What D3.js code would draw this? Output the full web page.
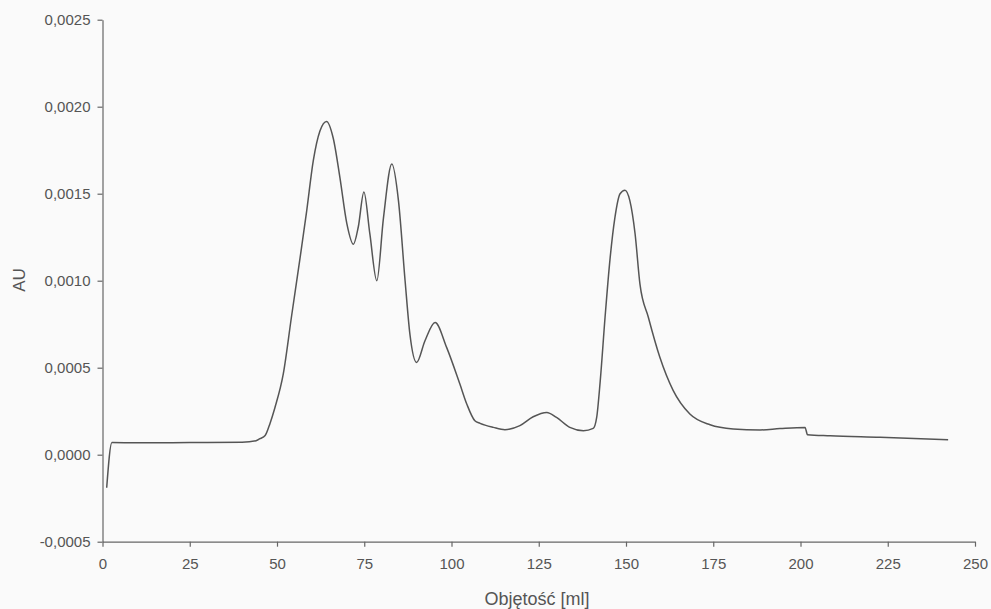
<!DOCTYPE html>
<html>
<head>
<meta charset="utf-8">
<script src="https://cdn.jsdelivr.net/npm/d3@7"></script>
<style>
  html, body { margin: 0; padding: 0; background: #fafafa; }
  svg { display: block; }
  text { font-family: Arial, "Liberation Sans", sans-serif; fill: #555; }
</style>
</head>
<body>
<svg id="chart" width="991" height="609"></svg>
<script>
// Volume (ml)
const volume = [1.2, 2.7, 10, 25, 40, 44, 45.1, 46.6, 48, 49.4, 51.8, 54.2, 56.6, 58.5, 60.4, 62.3, 64.2, 66.1, 68.05, 70.0, 71.9, 73.3, 74.9, 76.6, 78.6, 80.5, 82.9, 84.8, 86.7, 88.1, 90.0, 92.4, 95.3, 98.6, 102.4, 104.4, 106.7, 108.2, 112, 115.3, 119.6, 123.4, 127.3, 130.1, 133.9, 137.8, 140.6, 141.6, 142.6, 144, 145.4, 146.8, 148.3, 149.7, 151.1, 152.6, 154, 156.4, 159.7, 163.5, 168.3, 174.1, 180.7, 188.4, 194.1, 201.3, 202, 208.5, 222.8, 242.3];
// Absorbance (AU)
const absorbance = [-0.00019, 0.00007, 0.000068, 0.00007, 0.000072, 0.00008, 0.000092, 0.00011, 0.00018, 0.00027, 0.000464, 0.0008, 0.00113, 0.0014, 0.00169, 0.00186, 0.001915, 0.00182, 0.00159, 0.00133, 0.00121, 0.00131, 0.00151, 0.00127, 0.001, 0.00136, 0.00167, 0.00146, 0.001, 0.00069, 0.00053, 0.000655, 0.00076, 0.000617, 0.000406, 0.00029, 0.000195, 0.00018, 0.000157, 0.000144, 0.000167, 0.000218, 0.000243, 0.000214, 0.000157, 0.000138, 0.000151, 0.000214, 0.00042, 0.00079, 0.00112, 0.00136, 0.0015, 0.00152, 0.00146, 0.00127, 0.00098, 0.00079, 0.00056, 0.00037, 0.000234, 0.000172, 0.000148, 0.000142, 0.00015, 0.000157, 0.000115, 0.000109, 0.0001, 0.000086];
const xTicks = [0, 25, 50, 75, 100, 125, 150, 175, 200, 225, 250];
const yTicks = [-0.0005, 0, 0.0005, 0.001, 0.0015, 0.002, 0.0025];
const xTitle = "Objętość [ml]";
const yTitle = "AU";

const svg = d3.select("#chart");
const x = d3.scaleLinear().domain([0, 250]).range([102.5, 975]);
const y = d3.scaleLinear().domain([-0.0005, 0.0025]).range([541.7, 19.7]);

const fmtY = v => d3.format(".4f")(v).replace(".", ",").replace("−", "-");

const xAxis = svg.append("g")
  .attr("transform", `translate(0,${y(-0.0005)})`)
  .call(d3.axisBottom(x).tickValues(xTicks).tickSize(5).tickSizeOuter(0).tickPadding(12).tickFormat(d3.format("d")));
const yAxis = svg.append("g")
  .attr("transform", `translate(${x(0)},0)`)
  .call(d3.axisLeft(y).tickValues(yTicks).tickSize(5).tickSizeOuter(0).tickPadding(7).tickFormat(fmtY));

[xAxis, yAxis].forEach(g => {
  g.select(".domain").attr("stroke", "#666").attr("stroke-width", 1.2);
  g.selectAll(".tick line").attr("stroke", "#666").attr("stroke-width", 1.2);
  g.selectAll(".tick text").attr("fill", "#505050").style("font-size", "15px").style("font-family", "Arial, 'Liberation Sans', sans-serif");
});

const data = volume.map((v, i) => [v, absorbance[i]]);
const line = d3.line().x(d => x(d[0])).y(d => y(d[1])).curve(d3.curveMonotoneX);
svg.append("path").datum(data)
  .attr("d", line)
  .attr("fill", "none")
  .attr("stroke", "#555")
  .attr("stroke-width", 1.5);

svg.append("text")
  .attr("x", 537).attr("y", 605)
  .attr("text-anchor", "middle")
  .attr("fill", "#505050")
  .style("font-size", "18px")
  .text(xTitle);

svg.append("text")
  .attr("transform", "translate(25,280) rotate(-90)")
  .attr("text-anchor", "middle")
  .attr("fill", "#505050")
  .style("font-size", "17px")
  .text(yTitle);
</script>
</body>
</html>
